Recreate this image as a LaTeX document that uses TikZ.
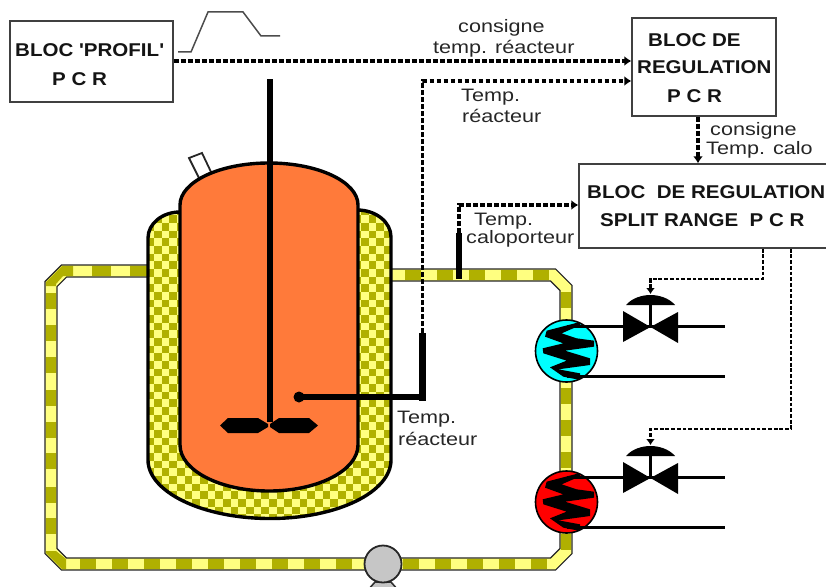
\documentclass[tikz,border=0pt]{standalone}
\usepackage{fontspec}
\setmainfont{Liberation Sans}
\newfontfamily\reglab[FakeStretch=1.2]{Liberation Sans}
\newfontfamily\boldlab[FakeStretch=1.11]{Liberation Sans Bold}
\usetikzlibrary{arrows.meta,calc}
\definecolor{olivec}{HTML}{B0B000}
\definecolor{yellowc}{HTML}{FFFF80}
\definecolor{orangec}{HTML}{FF7A3A}
\definecolor{grayc}{HTML}{C6C6C6}
\definecolor{cyanc}{HTML}{00FFFF}
\definecolor{redc}{HTML}{FF0000}
\tikzset{
  blockbox/.style={draw=black!75,line width=1.4pt,fill=white,inner sep=0pt,minimum width=#1},
  lab/.style={anchor=base west,inner sep=0pt,font=\reglab\fontsize{18}{20}\selectfont,text=black!85},
  blab/.style={anchor=base west,inner sep=0pt,font=\boldlab\fontsize{18.5}{20}\selectfont,text=black!92},
  sigthick/.style={line width=3.4pt,dash pattern=on 4.8pt off 2.2pt,-{Latex[length=7pt,width=10pt]}},
  sigthin/.style={line width=2.7pt,dash pattern=on 3.8pt off 1.9pt,-{Latex[length=6pt,width=9pt]}},
  proc/.style={draw=black,line width=3.2pt,line join=round},
  vessel/.style={draw=black,line width=3.4pt},
  stripe/.style={fill=olivec},
  exch/.style={circle,draw=black,line width=1.6pt,minimum size=62pt,inner sep=0pt}
}
\begin{document}
\begin{tikzpicture}[x=1pt,y=-1pt]
\useasboundingbox (0,0) rectangle (826,586);
% ---- loop pipe
\def\pipepath{(391,275) -- (553,275) -- (566,288) -- (566,551) -- (553,564) -- (64,564) -- (51,551) -- (51,284) -- (64,271) -- (150,271)}
\draw[black!85,line width=13.4pt,line join=miter] \pipepath;
\draw[yellowc,line width=10.6pt,line join=miter] \pipepath;
\foreach \x in {405,437,469,501,533} \fill[stripe] (\x,269.7) rectangle ++(16,10.6);
\foreach \y in {292,324,388,420,452,534} \fill[stripe] (560.7,\y) rectangle ++(10.6,16);
\foreach \x in {80,112,144,176,208,240,272,304,336,403,435,467,499,531} \fill[stripe] (\x,558.7) rectangle ++(16,10.6);
\foreach \y in {293,325,357,390,422,453,487,518} \fill[stripe] (45.7,\y) rectangle ++(10.6,16);
\foreach \x/\w in {92/19,130/19} \fill[stripe] (\x,265.7) rectangle ++(\w,10.6);
\fill[stripe] (46,551) -- (56,551) -- (66,559) -- (66,569) -- (62,569) -- (46,553) -- cycle;
\fill[stripe] (46,286) -- (46,282) -- (62,266) -- (73,266) -- (73,276) -- (63,276) -- (56,284) -- (56,286) -- cycle;
% ---- jacket
\def\jacketpath{(148,238) .. controls (148,223.6) and (162.3,212) .. (180,212) -- (357,210) .. controls (375.8,210) and (391,222) .. (391,237) -- (391,460) .. controls (391,492) and (337.4,518.5) .. (270,518.5) .. controls (202.6,518.5) and (148,492) .. (148,460) -- cycle}
\fill[yellowc] \jacketpath;
\begin{scope}
  \clip \jacketpath;
  \foreach \i in {0,...,17} \foreach \j in {0,...,21} {
    \fill[olivec] ({138.8+15.33*\i},{199.9+15.33*\j}) rectangle ++(7.67,7.67);
    \fill[olivec] ({146.47+15.33*\i},{207.57+15.33*\j}) rectangle ++(7.67,7.67);
  }
\end{scope}
\draw[vessel] \jacketpath;
% ---- port
\draw[fill=white,draw=black!85,line width=1.8pt] (189,158) -- (202,153) -- (212,174) -- (200,180) -- cycle;
% ---- reactor
\draw[vessel,fill=orangec] (180,205) .. controls (180,181.8) and (219.8,163) .. (269,163) .. controls (318.2,163) and (358,181.8) .. (358,205) -- (358,445) .. controls (358,470.4) and (318,491) .. (269,491) .. controls (220,491) and (180,470.4) .. (180,445) -- cycle;
% ---- agitator
\coordinate (shaftT) at (269.5,79);
\coordinate (shaftB) at (269.5,422);
\draw[black,line width=6pt] (shaftT) -- (shaftB);
\fill[black] (220,425.5) -- (228,418) -- (258,418) -- (268,424) -- (268,427) -- (258,433) -- (228,433) -- cycle;
\fill[black] (270,424) -- (279,418) -- (309,418) -- (318,425.5) -- (309,433) -- (279,433) -- (270,427) -- cycle;
% ---- probes
\coordinate (probeT) at (422.5,333);
\coordinate (probeB) at (422.5,397);
\coordinate (probeTip) at (299,397);
\draw[black,line width=7pt] (probeT) -- (422.5,401);
\draw[black,line width=6.5pt] (probeB) -- (probeTip);
\fill[black] (probeTip) circle (5.5);
\coordinate (caloB) at (459,279);
\coordinate (caloT) at (459,233);
\draw[black,line width=6pt] (caloB) -- (caloT);
% ---- exchangers
\node[exch,fill=cyanc] (hxa) at (566.5,351) {};
\node[exch,fill=redc] (hxb) at (566.5,502) {};
\foreach \n/\dy in {hxa/0,hxb/151} {
\begin{scope}
  \clip (566.5,{351+\dy}) circle (30.5);
  \begin{scope}[shift={(530,{310+\dy})},x=0.3333pt,y=-0.3333pt]
  \fill[black] (150,36) -- (150,46) -- (95,70) -- (140,85) -- (192,92) -- (192,110) -- (105,122) -- (180,145) -- (180,165) -- (85,178) -- (150,190) -- (150,210) -- (100,200) -- (60,172) -- (110,152) -- (40,130) -- (38,115) -- (100,100) -- (45,80) -- (50,62) -- cycle;
  \end{scope}
\end{scope}}
% ---- pump
\draw[black!80,line width=1.6pt,fill=grayc] (375,582) -- (391,582) -- (398,590) -- (368,590) -- cycle;
\node[circle,draw=black!85,line width=1.8pt,fill=grayc,minimum size=37pt,inner sep=0pt] (pump) at (383,564) {};
% ---- process lines and valves
\foreach \n/\hx/\dy in {a/hxa/0,b/hxb/151} {
  \coordinate (va\n) at (650.5,{326.5+\dy});
  \coordinate (ea\n) at (725,{326.5+\dy});
  \coordinate (eb\n) at (725,{376.5+\dy});
  \draw[proc] (\hx.north |- va\n) -- (ea\n);
  \draw[proc] (\hx.south |- eb\n) -- (eb\n);
  \fill[black] (623,{311+\dy}) -- (650.5,{327+\dy}) -- (623,{342+\dy}) -- cycle;
  \fill[black] (678,{312+\dy}) -- (650.5,{327+\dy}) -- (678,{343+\dy}) -- cycle;
  \draw[black,line width=3.5pt] (va\n) -- (650.5,{304+\dy});
  \fill[black] (626,{305+\dy}) .. controls (632,{298+\dy}) and (642,{295+\dy}) .. (650.5,{295+\dy}) .. controls (659,{295+\dy}) and (669,{298+\dy}) .. (675,{305+\dy}) -- cycle;
}
% ---- blocks
\node[blockbox=163pt,minimum height=81pt] (profil) at (91.5,61.5) {};
\node[blockbox=144pt,minimum height=98pt] (reg) at (704,67) {};
\node[blockbox=252pt,minimum height=84pt] (split) at (705,206) {};
% ---- profile curve
\coordinate (pfA) at (178,52);
\coordinate (pfB) at (280,36);
\draw[black!70,line width=1.5pt] (pfA) -- (191,52) -- (208,12) -- (243,12) -- (261,36) -- (pfB);
% ---- signals
\coordinate (ya) at (0,61);
\coordinate (yb) at (0,81);
\coordinate (yc) at (0,205);
\coordinate (xa) at (763,0);
\coordinate (xb) at (791,0);
\coordinate (xc) at (698,0);
\coordinate (vatop) at (650.5,294);
\coordinate (vbtop) at (650.5,445);
\draw[sigthick] (profil.east |- ya) -- (reg.west |- ya);
\draw[sigthick] (probeT) |- (reg.west |- yb);
\draw[sigthick] (caloT) |- (split.west |- yc);
\draw[sigthick] (reg.south -| xc) -- (split.north -| xc);
\draw[sigthin] (split.south -| xa) |- (650.5,279) -- (vatop);
\draw[sigthin] (split.south -| xb) |- (650.5,429) -- (vbtop);
% ---- labels
\node[blab] (t1) at (15,56.7) {BLOC 'PROFIL'};
\node[blab] (t2) at (52,85) {P C R};
\node[blab] (t3) at (648,46) {BLOC DE};
\node[blab] (t4) at (637,74) {REGULATION};
\node[blab] (t5) at (667,102.7) {P C R};
\node[blab] (t6) at (587,198) {BLOC~ DE REGULATION};
\node[blab] (t7) at (600,226.7) {SPLIT RANGE~ P C R};
\node[lab] (l1) at (458,33) {consigne};
\node[lab] (l2) at (433,53) {temp. réacteur};
\node[lab] (l3) at (461,101) {Temp.};
\node[lab] (l4) at (462,122.7) {réacteur};
\node[lab] (l5) at (710,135) {consigne};
\node[lab] (l6) at (706,154.3) {Temp. calo};
\node[lab] (l7) at (474,225.7) {Temp.};
\node[lab] (l8) at (466,243) {caloporteur};
\node[lab] (l9) at (397,423) {Temp.};
\node[lab] (l10) at (398,445) {réacteur};
\end{tikzpicture}
\end{document}
